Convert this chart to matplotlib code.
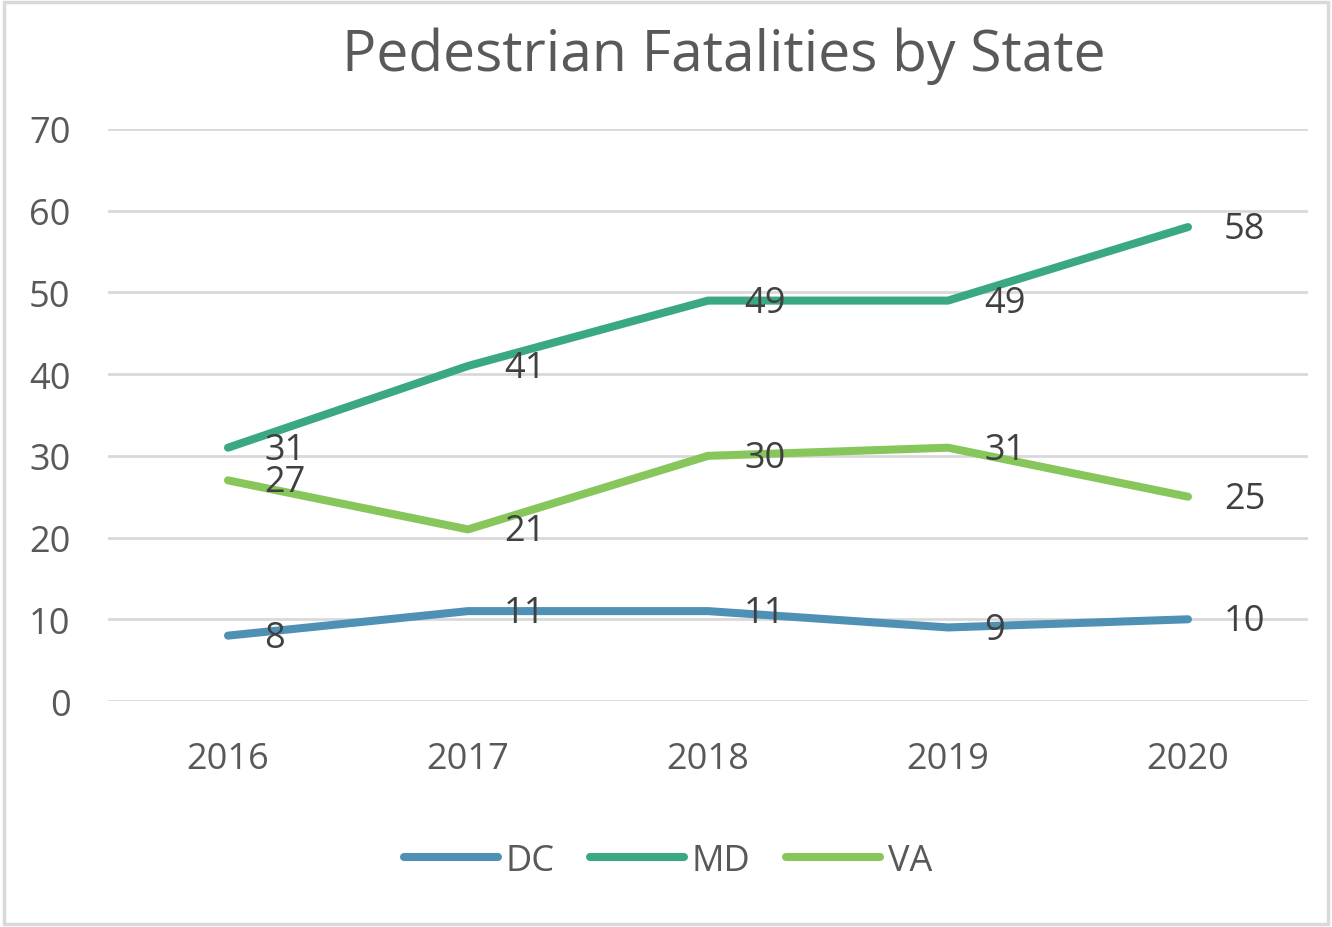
import matplotlib.pyplot as plt
from matplotlib.patches import Rectangle

years = ["2016", "2017", "2018", "2019", "2020"]
dc = [8, 11, 11, 9, 10]
md = [31, 41, 49, 49, 58]
va = [27, 21, 30, 31, 25]

series = [("DC", dc, "#4F91B5"), ("MD", md, "#3AA882"), ("VA", va, "#87C65A")]
text_color = "#595959"

plt.rcParams["font.family"] = ["Open Sans", "DejaVu Sans"]

fig = plt.figure(figsize=(13.32, 9.28), dpi=100)
ax = fig.add_axes([108 / 1332, 1 - 702 / 928, 1200 / 1332, 572 / 928])

x = list(range(len(years)))
for name, vals, color in series:
    ax.plot(x, vals, color=color, linewidth=5.8, solid_capstyle="round",
            solid_joinstyle="round", label=name, zorder=3)
    for xi, v in zip(x, vals):
        ax.annotate(str(v), (xi, v), xytext=(26, -1.5), textcoords="offset points",
                    ha="left", va="center", fontsize=26, color="#404040", zorder=4)

ax.set_xlim(-0.5, 4.5)
ax.set_ylim(0, 70)
ax.set_yticks(range(0, 71, 10))
ax.set_xticks(x)
ax.set_xticklabels(years)
ax.grid(axis="y", color="#D9D9D9", linewidth=2)
ax.set_axisbelow(True)
for s in ax.spines.values():
    s.set_visible(False)
ax.tick_params(length=0, labelsize=26, labelcolor=text_color)
ax.tick_params(axis="y", pad=27)
ax.tick_params(axis="x", pad=29)
for lbl in ax.get_yticklabels():
    lbl.set_horizontalalignment("right")

fig.text(724 / 1332, 1 - 56 / 928, "Pedestrian Fatalities by State", ha="center",
         va="center", fontsize=41, color=text_color)

leg = fig.legend(loc="center", bbox_to_anchor=(668 / 1332, 1 - 862 / 928), ncol=3,
                 frameon=False, fontsize=26, handlelength=2.6, handletextpad=0.2,
                 columnspacing=1.0)
for t in leg.get_texts():
    t.set_color(text_color)

fig.patches.append(Rectangle((0.003, 0.003), 0.994, 0.994, transform=fig.transFigure,
                             fill=False, edgecolor="#D9D9D9", linewidth=2.5))

fig.savefig("out.png", dpi=100)
